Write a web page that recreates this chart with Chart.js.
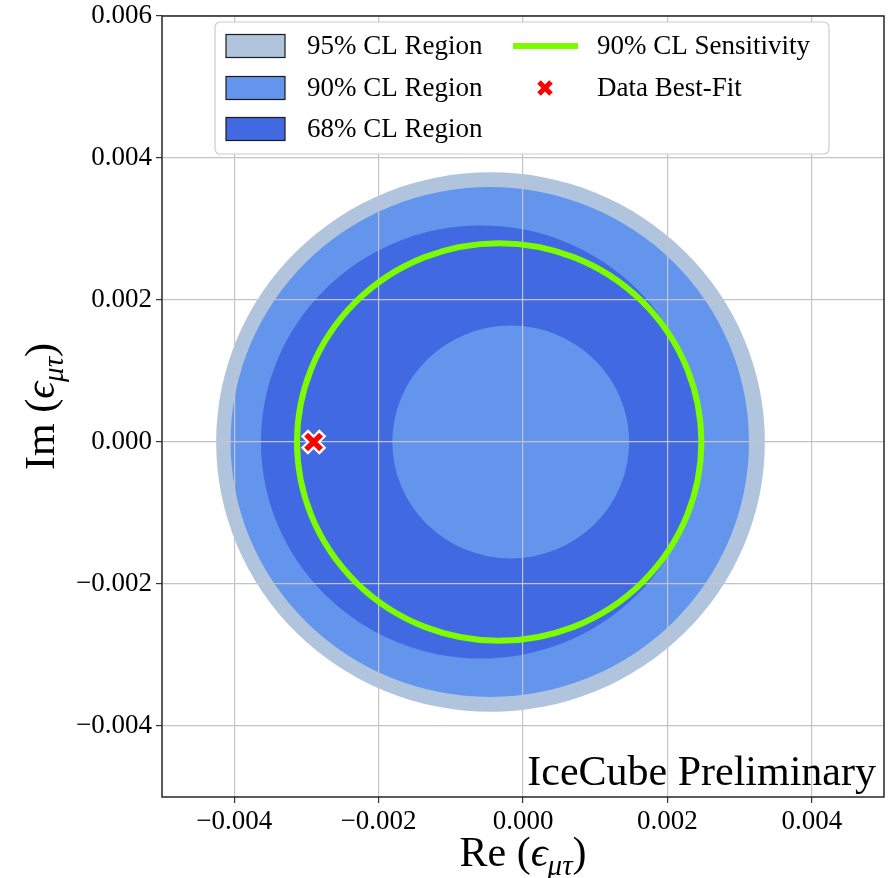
<!DOCTYPE html>
<html>
<head>
<meta charset="utf-8">
<script src="https://cdn.jsdelivr.net/npm/chart.js@4.4.1/dist/chart.umd.min.js"></script>
<style>
  html, body { margin: 0; padding: 0; background: #fff; }
  #wrap { width: 892px; height: 878px; }
</style>
</head>
<body>
<div id="wrap"><canvas id="grafico"></canvas></div>
<script>
// Re/Im de eps_mu_tau: regiones de confianza, sensibilidad y mejor ajuste.

// ── Ejes ─────────────────────────────────────────────────────────────────────
const X_MIN = -0.005, X_MAX = 0.005;
const Y_MIN = -0.005, Y_MAX = 0.006;
const X_TICKS = [-0.004, -0.002, 0, 0.002, 0.004];
const Y_TICKS = [-0.004, -0.002, 0, 0.002, 0.004, 0.006];

// ── Regiones (centro Re, centro Im, radio) ───────────────────────────────────
const REGION_LABELS = ['95% CL Region', '90% CL Region', '68% CL Region'];
const REGION_CX = [-0.00045, -0.00046, -0.00058];
const REGION_CY = [0, 0, 0];
const REGION_R = [0.0038, 0.00359, 0.00305];
const REGION_COLORS = ['#b0c4de', '#6495ed', '#4169e1'];
// la región 68% tiene un hueco interior
const HOLE_CX = -0.00017, HOLE_CY = 0, HOLE_R = 0.00164;

// ── Sensibilidad 90% ─────────────────────────────────────────────────────────
const SENS_LABEL = '90% CL Sensitivity';
const SENS_CX = -0.00033, SENS_CY = 0, SENS_R = 0.0028;
const SENS_COLOR = '#7cfc00';

// ── Mejor ajuste ─────────────────────────────────────────────────────────────
const BEST_LABEL = 'Data Best-Fit';
const BEST_FIT = [{ x: -0.0029, y: 0 }];

const SERIF = '"Liberation Serif", "DejaVu Serif", serif';

function fmtTick(v) {
  if (Math.abs(v) < 1e-12) return '0.000';
  return (v < 0 ? '\u2212' : '') + Math.abs(v).toFixed(3);
}

// círculo en coordenadas de datos, convertido con las escalas
function trazarCirculo(ctx, chart, cx, cy, r) {
  const sx = chart.scales.x, sy = chart.scales.y;
  const px = sx.getPixelForValue(cx), py = sy.getPixelForValue(cy);
  const rx = Math.abs(sx.getPixelForValue(cx + r) - px);
  const ry = Math.abs(sy.getPixelForValue(cy + r) - py);
  ctx.moveTo(px + rx, py);
  ctx.ellipse(px, py, rx, ry, 0, 0, Math.PI * 2);
}

// texto con subíndice: partes [{t, italic, sub}]
function fuentePara(p, size) {
  const s = p.sub ? Math.round(size * 0.7) : size;
  return (p.italic ? 'italic ' : '') + s + 'px ' + SERIF;
}
function anchoPartes(ctx, partes, size) {
  let w = 0;
  partes.forEach(p => {
    ctx.font = fuentePara(p, size);
    w += ctx.measureText(p.t).width;
  });
  return w;
}
function dibujarPartes(ctx, partes, x, y, size) {
  let cx = x;
  partes.forEach(p => {
    ctx.font = fuentePara(p, size);
    ctx.fillText(p.t, cx, y + (p.sub ? size * 0.22 : 0));
    cx += ctx.measureText(p.t).width;
  });
}

const X_TITLE = [{ t: 'Re (' }, { t: '\u03f5', italic: true }, { t: '\u03bc\u03c4', italic: true, sub: true }, { t: ')' }];
const Y_TITLE = [{ t: 'Im (' }, { t: '\u03f5', italic: true }, { t: '\u03bc\u03c4', italic: true, sub: true }, { t: ')' }];

const pluginRegiones = {
  id: 'regiones',
  // debajo de la grilla
  beforeDraw(chart) {
    const { ctx, chartArea: a } = chart;
    ctx.save();
    ctx.beginPath();
    ctx.rect(a.left, a.top, a.right - a.left, a.bottom - a.top);
    ctx.clip();
    for (let i = 0; i < REGION_R.length; i++) {
      ctx.beginPath();
      trazarCirculo(ctx, chart, REGION_CX[i], REGION_CY[i], REGION_R[i]);
      if (i === 2) trazarCirculo(ctx, chart, HOLE_CX, HOLE_CY, HOLE_R);
      ctx.fillStyle = REGION_COLORS[i];
      ctx.fill('evenodd');
    }
    ctx.restore();
  },
  // encima de la grilla, debajo del marcador
  beforeDatasetsDraw(chart) {
    const { ctx } = chart;
    ctx.save();
    ctx.beginPath();
    trazarCirculo(ctx, chart, SENS_CX, SENS_CY, SENS_R);
    ctx.strokeStyle = SENS_COLOR;
    ctx.lineWidth = 6;
    ctx.stroke();
    ctx.restore();
  },
  afterDraw(chart) {
    const { ctx, chartArea: a } = chart;
    ctx.save();

    // marco
    ctx.strokeStyle = '#262626';
    ctx.lineWidth = 1.5;
    ctx.strokeRect(a.left, a.top, a.right - a.left, a.bottom - a.top);

    // marca de agua
    ctx.fillStyle = '#000';
    ctx.font = '42px ' + SERIF;
    ctx.textAlign = 'right';
    ctx.textBaseline = 'alphabetic';
    ctx.fillText('IceCube Preliminary', a.right - 8, a.bottom - 12);

    // títulos de ejes
    ctx.textAlign = 'left';
    const ts = 42;
    let w = anchoPartes(ctx, X_TITLE, ts);
    dibujarPartes(ctx, X_TITLE, (a.left + a.right) / 2 - w / 2, 866, ts);
    ctx.save();
    ctx.translate(54, (a.top + a.bottom) / 2);
    ctx.rotate(-Math.PI / 2);
    w = anchoPartes(ctx, Y_TITLE, ts);
    dibujarPartes(ctx, Y_TITLE, -w / 2, 0, ts);
    ctx.restore();

    // leyenda
    const L = { x: 215, y: 22, w: 614, h: 132 };
    ctx.beginPath();
    ctx.roundRect(L.x, L.y, L.w, L.h, 5);
    ctx.fillStyle = '#fff';
    ctx.fill();
    ctx.strokeStyle = '#cccccc';
    ctx.lineWidth = 1.2;
    ctx.stroke();

    const filas = [46, 88, 129];
    ctx.font = '27px ' + SERIF;
    ctx.textBaseline = 'middle';
    REGION_LABELS.forEach((lab, i) => {
      ctx.fillStyle = REGION_COLORS[i];
      ctx.fillRect(226, filas[i] - 11.5, 59, 23);
      ctx.strokeStyle = '#1a1a1a';
      ctx.lineWidth = 1.2;
      ctx.strokeRect(226, filas[i] - 11.5, 59, 23);
      ctx.fillStyle = '#000';
      ctx.fillText(lab, 307, filas[i] + 1);
    });
    // sensibilidad
    ctx.strokeStyle = SENS_COLOR;
    ctx.lineWidth = 6;
    ctx.beginPath();
    ctx.moveTo(513, filas[0]);
    ctx.lineTo(578, filas[0]);
    ctx.stroke();
    ctx.fillStyle = '#000';
    ctx.fillText(SENS_LABEL, 597, filas[0] + 1);
    // mejor ajuste
    ctx.strokeStyle = '#ff0000';
    ctx.lineWidth = 5;
    ctx.beginPath();
    ctx.moveTo(539, filas[1] - 6); ctx.lineTo(551, filas[1] + 6);
    ctx.moveTo(551, filas[1] - 6); ctx.lineTo(539, filas[1] + 6);
    ctx.stroke();
    ctx.fillText(BEST_LABEL, 597, filas[1] + 1);

    ctx.restore();
  }
};

new Chart(document.getElementById('grafico'), {
  type: 'scatter',
  data: {
    datasets: [
      // el dataset 0 se dibuja encima: cruz roja sobre el borde blanco
      { label: BEST_LABEL, data: BEST_FIT, pointStyle: 'crossRot', radius: 10.5, borderWidth: 5.5, borderColor: '#ff0000', backgroundColor: '#ff0000' },
      { label: BEST_LABEL, data: BEST_FIT, pointStyle: 'crossRot', radius: 13, borderWidth: 10, borderColor: '#ffffff', backgroundColor: '#ffffff' },
    ],
  },
  options: {
    responsive: true, maintainAspectRatio: false,
    animation: false,
    // sin autoPadding: el marcador grande no debe encoger el área
    layout: { autoPadding: false, padding: { top: 16, right: 8, left: 0, bottom: 0 } },
    plugins: { legend: { display: false }, tooltip: { enabled: false } },
    scales: {
      x: {
        type: 'linear', min: X_MIN, max: X_MAX,
        afterBuildTicks: s => { s.ticks = X_TICKS.map(v => ({ value: v })); },
        afterFit: s => { s.height = 81; s.paddingLeft = 0; s.paddingRight = 0; },
        grid: { color: '#c4c4c4', lineWidth: 1.2, tickColor: '#333', tickLength: 6, tickWidth: 1.2 },
        border: { display: false },
        ticks: { callback: fmtTick, color: '#000', padding: 3, maxRotation: 0, font: { family: SERIF, size: 27 } },
      },
      y: {
        type: 'linear', min: Y_MIN, max: Y_MAX,
        afterBuildTicks: s => { s.ticks = Y_TICKS.map(v => ({ value: v })); },
        afterFit: s => { s.width = 162; s.paddingTop = 0; s.paddingBottom = 0; },
        grid: { color: '#c4c4c4', lineWidth: 1.2, tickColor: '#333', tickLength: 6, tickWidth: 1.2 },
        border: { display: false },
        ticks: { callback: fmtTick, color: '#000', padding: 4, font: { family: SERIF, size: 27 } },
      },
    },
  },
  plugins: [pluginRegiones],
});
</script>
</body>
</html>
